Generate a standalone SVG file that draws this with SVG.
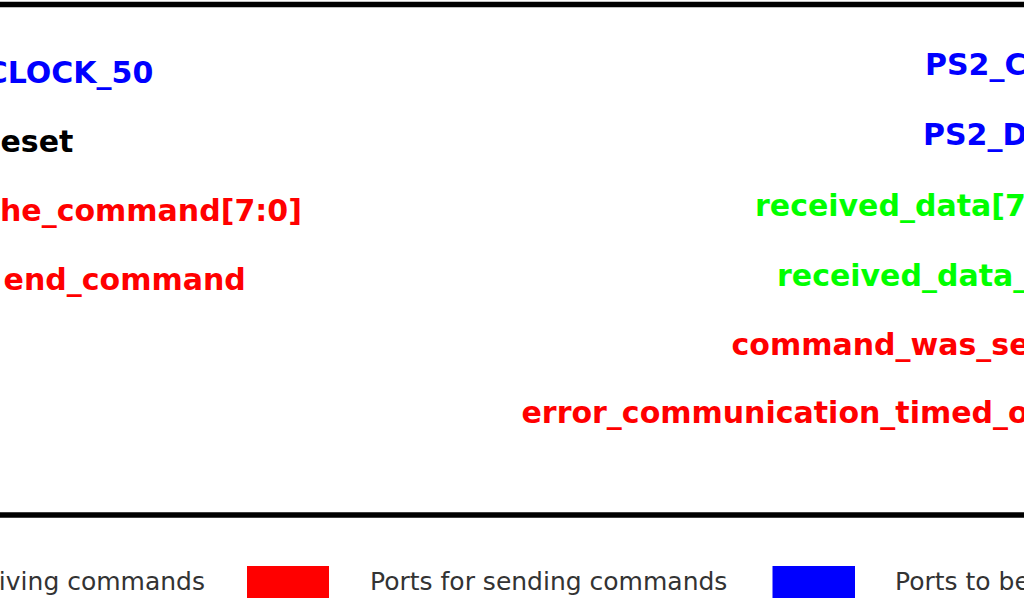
<svg xmlns="http://www.w3.org/2000/svg" width="1024" height="600" viewBox="0 0 1024 600">
  <style>
    .port { font-family: "DejaVu Sans", Verdana, sans-serif; font-weight: bold; font-size: 30px; }
    .blue { fill: #0000ff; }
    .red { fill: #ff0000; }
    .green { fill: #00ff00; }
    .black { fill: #000000; }
    .legend { font-family: "DejaVu Sans", Verdana, sans-serif; font-size: 25px; fill: #333333; }
    .edge { stroke: #000000; stroke-width: 5.5; fill: none; }
  </style>
  <rect x="0" y="0" width="1024" height="600" fill="#ffffff"/>
  <g id="block">
    <line class="edge" x1="0" y1="4.5" x2="1024" y2="4.5"/>
    <line class="edge" x1="0" y1="515" x2="1024" y2="515"/>
  </g>
  <g id="ports-left">
    <g id="port-clock"><text class="port blue" x="-14.3" y="83">CLOCK_50</text></g>
    <g id="port-reset"><text class="port black" x="0.5" y="152">eset</text></g>
    <g id="port-the-command"><text class="port red" x="0" y="221">he_command[7:0]</text></g>
    <g id="port-send-command"><text class="port red" x="3.6" y="290">end_command</text></g>
  </g>
  <g id="ports-right">
    <g id="port-ps2-clk"><text class="port blue" x="925" y="75">PS2_C</text></g>
    <g id="port-ps2-dat"><text class="port blue" x="923" y="145">PS2_D</text></g>
    <g id="port-received-data"><text class="port green" x="755" y="216">received_data[7</text></g>
    <g id="port-received-data-en"><text class="port green" x="777" y="286">received_data_</text></g>
    <g id="port-command-was-sent"><text class="port red" x="731.5" y="354.5">command_was_se</text></g>
    <g id="port-error-timed-out"><text class="port red" x="521.5" y="422.5">error_communication_timed_o</text></g>
  </g>
  <g id="legend">
    <text class="legend" x="205" y="589.5" text-anchor="end">iving commands</text>
    <rect x="247" y="566" width="82" height="32" fill="#ff0000"/>
    <text class="legend" x="370" y="589.5">Ports for sending commands</text>
    <rect x="772.5" y="566" width="82.5" height="32" fill="#0000ff"/>
    <text class="legend" x="895" y="589.5">Ports to be</text>
  </g>
  <g id="connectors"></g>
</svg>
